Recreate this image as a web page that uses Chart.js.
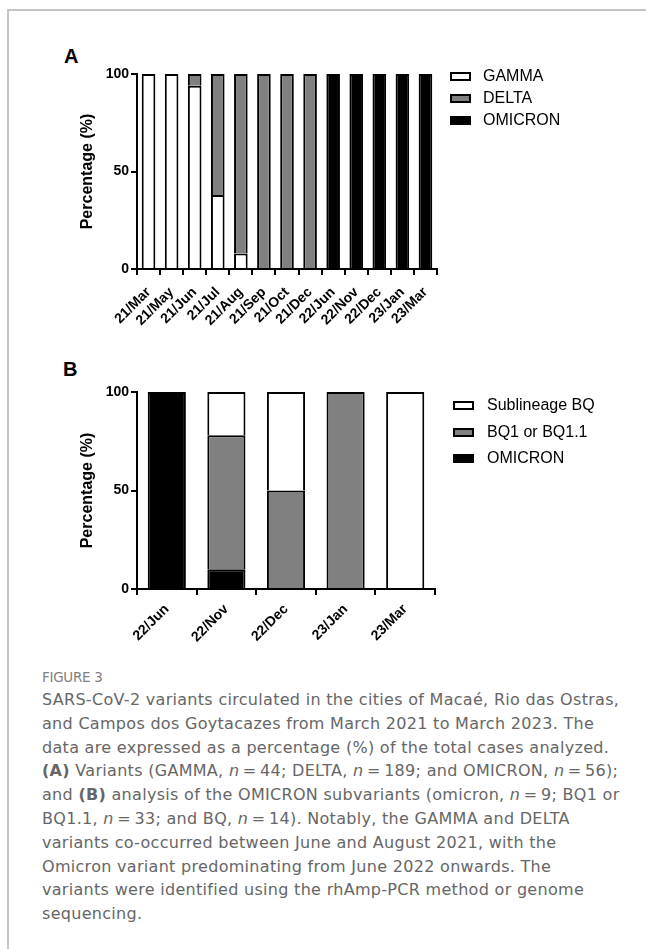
<!DOCTYPE html>
<html>
<head>
<meta charset="utf-8">
<script src="https://cdn.jsdelivr.net/npm/chart.js@4.4.0/dist/chart.umd.min.js"></script>
<style>
  body { margin: 0; background: #fff; width: 646px; height: 949px; overflow: hidden; position: relative; font-family: "Liberation Sans", Arial, sans-serif; }
  .frame { position: absolute; left: 7px; top: 9px; right: -10px; bottom: -10px; border: 2px solid #c4c4c4; }
  .panel { position: absolute; font-weight: bold; font-size: 20px; color: #000; }
  .wrap { position: absolute; left: 0; width: 646px; }
  .legend { position: absolute; font-size: 16px; color: #000; }
  .legend .row { position: absolute; white-space: nowrap; height: 20px; line-height: 20px; }
  .legend .sw { position: absolute; left: 0; top: 6px; width: 17px; height: 5px; border: 2px solid #000; }
  .legend .tx { position: absolute; }
  .caption { position: absolute; left: 42px; top: 666px; width: 604px; font-family: "DejaVu Sans", sans-serif; color: #666; }
  .caption .fig { font-size: 13.5px; color: #808080; letter-spacing: -0.3px; line-height: 22px; }
  .caption p { margin: 0; font-size: 16px; line-height: 23.8px; letter-spacing: 0.3px; white-space: nowrap; }
</style>
</head>
<body>
<div class="frame"></div>
<div class="panel" style="left:64px;top:45px;">A</div>
<div class="panel" style="left:63px;top:358px;">B</div>

<div class="wrap" style="top:0;height:340px;"><canvas id="chartA"></canvas></div>
<div class="wrap" style="top:350px;height:300px;"><canvas id="chartB"></canvas></div>
<div class="legend" id="legendA" style="left:450px;top:66px;"></div>
<div class="legend" id="legendB" style="left:453px;top:395px;"></div>

<div class="caption">
  <div class="fig">FIGURE 3</div>
  <p>SARS-CoV-2 variants circulated in the cities of Macaé, Rio das Ostras,<br>
  and Campos dos Goytacazes from March 2021 to March 2023. The<br>
  data are expressed as a percentage (%) of the total cases analyzed.<br>
  <b>(A)</b> Variants (GAMMA, <i>n</i>&#8201;=&#8201;44; DELTA, <i>n</i>&#8201;=&#8201;189; and OMICRON, <i>n</i>&#8201;=&#8201;56);<br>
  and <b>(B)</b> analysis of the OMICRON subvariants (omicron, <i>n</i>&#8201;=&#8201;9; BQ1 or<br>
  BQ1.1, <i>n</i>&#8201;=&#8201;33; and BQ, <i>n</i>&#8201;=&#8201;14). Notably, the GAMMA and DELTA<br>
  variants co-occurred between June and August 2021, with the<br>
  Omicron variant predominating from June 2022 onwards. The<br>
  variants were identified using the rhAmp-PCR method or genome<br>
  sequencing.</p>
</div>

<script>
// panel A: variants per month (%)
const monthsA = ['21/Mar', '21/May', '21/Jun', '21/Jul', '21/Aug', '21/Sep', '21/Oct', '21/Dec',
                 '22/Jun', '22/Nov', '22/Dec', '23/Jan', '23/Mar'];
const gamma   = [100, 100, 94, 38, 8, null, null, null, null, null, null, null, null];
const delta   = [null, null, 6, 62, 92, 100, 100, 100, null, null, null, null, null];
const omicron = [null, null, null, null, null, null, null, null, 100, 100, 100, 100, 100];

// panel B: omicron subvariants (%)
const monthsB = ['22/Jun', '22/Nov', '22/Dec', '23/Jan', '23/Mar'];
const omicronB = [100, 10, null, null, null];
const bq1      = [null, 68, 50, 100, null];
const bqSub    = [null, 22, 50, null, 100];

const yTicks = [0, 50, 100];

const WHITE = '#ffffff', GREY = '#808080', BLACK = '#000000';
const FONT = '"Liberation Sans", Arial, sans-serif';

function makeDataset(label, data, color) {
  return {
    label: label,
    data: data,
    backgroundColor: color,
    borderColor: BLACK,
    borderWidth: 2,
  };
}

function makeOptions(pad, yWidth, xHeight, barPct, xFont, xPad) {
  return {
    responsive: true,
    maintainAspectRatio: false,
    animation: false,
    layout: { padding: pad },
    datasets: { bar: { categoryPercentage: 1, barPercentage: barPct } },
    plugins: { legend: { display: false }, tooltip: { enabled: false } },
    scales: {
      x: {
        stacked: true,
        grid: { display: true, drawOnChartArea: false, drawTicks: true, tickLength: 6, color: BLACK, lineWidth: 2 },
        border: { display: true, color: BLACK, width: 2 },
        ticks: { color: BLACK, font: { family: FONT, size: xFont, weight: 'bold' }, minRotation: 45, maxRotation: 45, padding: xPad, autoSkip: false },
        afterFit: (s) => { s.height = xHeight; },
      },
      y: {
        stacked: true,
        min: 0,
        max: 100,
        afterBuildTicks: (s) => { s.ticks = yTicks.map((v) => ({ value: v })); },
        grid: { display: true, drawOnChartArea: false, drawTicks: true, tickLength: 6, color: BLACK, lineWidth: 2 },
        border: { display: true, color: BLACK, width: 2 },
        ticks: { color: BLACK, font: { family: FONT, size: 14, weight: 'bold' }, padding: 2 },
        title: { display: true, text: 'Percentage (%)', color: BLACK, font: { family: FONT, size: 16, weight: 'bold' }, padding: { top: 0, bottom: 4 } },
        afterFit: (s) => { s.width = yWidth; },
      },
    },
  };
}

const dsA = [
  makeDataset('GAMMA', gamma, WHITE),
  makeDataset('DELTA', delta, GREY),
  makeDataset('OMICRON', omicron, BLACK),
];
const dsB = [
  makeDataset('OMICRON', omicronB, BLACK),
  makeDataset('BQ1 or BQ1.1', bq1, GREY),
  makeDataset('Sublineage BQ', bqSub, WHITE),
];

new Chart(document.getElementById('chartA'), {
  type: 'bar',
  data: { labels: monthsA, datasets: dsA },
  options: makeOptions({ left: 78, right: 209, top: 74, bottom: 0 }, 59, 71, 0.59, 14, 9),
});

new Chart(document.getElementById('chartB'), {
  type: 'bar',
  data: { labels: monthsB, datasets: dsB },
  options: makeOptions({ left: 78, right: 211, top: 42, bottom: 0 }, 59, 61, 0.64, 14, 6),
});

// html legends built from the datasets
function buildLegend(id, datasets, spacing) {
  const el = document.getElementById(id);
  datasets.forEach((d, i) => {
    const row = document.createElement('div');
    row.className = 'row';
    row.style.top = (i * spacing) + 'px';
    row.innerHTML = '<span class="sw" style="background:' + d.backgroundColor + '"></span>' +
                    '<span class="tx" style="left:' + (id === 'legendA' ? 33 : 34) + 'px">' + d.label + '</span>';
    el.appendChild(row);
  });
}
buildLegend('legendA', dsA, 22);
buildLegend('legendB', dsB.slice().reverse(), 26.5);
</script>
</body>
</html>
